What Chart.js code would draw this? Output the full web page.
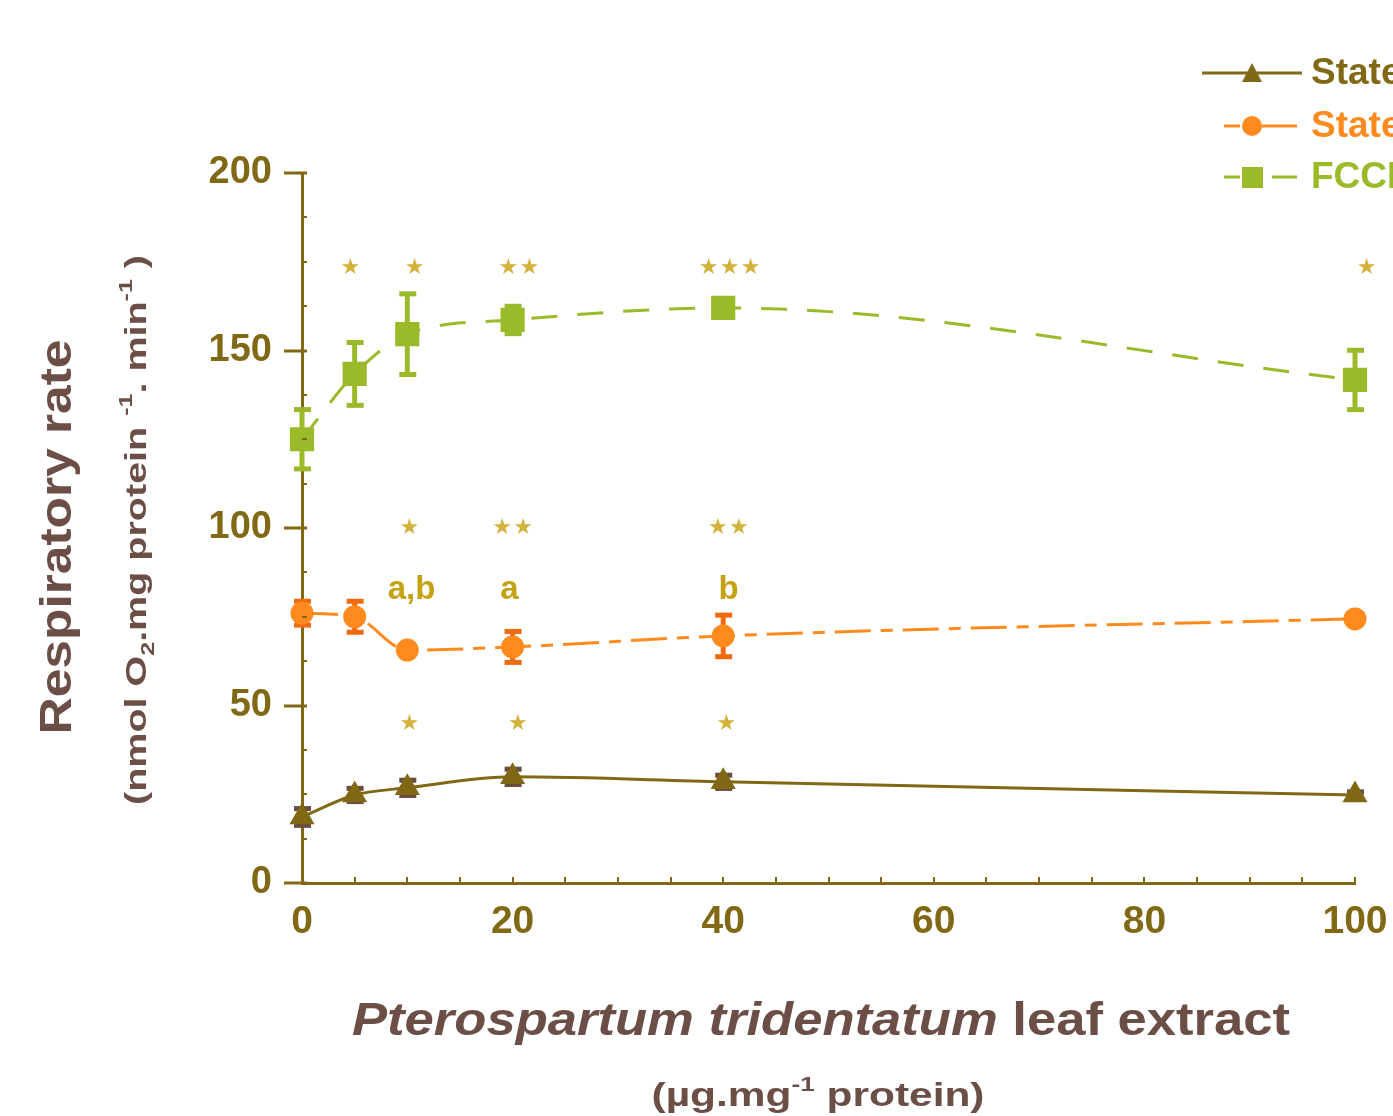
<!DOCTYPE html>
<html>
<head>
<meta charset="utf-8">
<script src="https://cdn.jsdelivr.net/npm/chart.js@4.4.0/dist/chart.umd.min.js"></script>
<style>
  html, body { margin: 0; padding: 0; background: #fff; overflow: hidden; }
  canvas { display: block; }
</style>
</head>
<body>
<canvas id="resp" width="1393" height="1116"></canvas>
<script>
// leaf extract doses (µg/mg protein)
const doses = [0, 5, 10, 20, 40, 100];

const state4 = [18.6, 24.8, 26.8, 29.9, 28.5, 24.8];
const state4Err = [2.5, 2, 2.3, 2.3, 2, 1];

const state3 = [76, 75, 65.6, 66.5, 69.6, 74.4];
const state3Err = [3.5, 4.5, 1, 4.5, 6, 1.5];

const fccp = [125, 143.4, 154.6, 158.6, 162, 141.7];
const fccpErr = [8.5, 9, 11.5, 4, 1.5, 8.5];

const seriesNames = ['State 4', 'State 3', 'FCCP'];

// significance marks
const starX = [4.6, 10.7, 20.6, 40.6, 101.1, 10.2, 20, 40.5, 10.2, 20.5, 40.3];
const starY = [173.2, 173.2, 173.2, 173.2, 173.2, 100, 100, 100, 44.8, 44.8, 44.8];
const starCount = [1, 1, 2, 3, 1, 1, 2, 2, 1, 1, 1];

const letterX = [10.4, 19.7, 40.5];
const letterY = [82.5, 82.5, 82.5];
const letterText = ['a,b', 'a', 'b'];

const OLIVE = '#806814';
const ORANGE = '#ff8a1e';
const GREEN = '#9aba2a';
const BROWN = '#6b4f47';
const FONT = "'Liberation Sans', Arial, sans-serif";

const toXY = vals => doses.map((d, i) => ({ x: d, y: vals[i] }));
const errs = [state4Err, state3Err, fccpErr];
const errColors = ['#6b4c40', '#f06a10', GREEN];

// error bars under the markers
const errorBars = {
    id: 'errorBars',
    beforeDatasetsDraw(chart) {
        const { ctx, scales: { x, y } } = chart;
        chart.data.datasets.forEach((ds, k) => {
            ctx.save();
            ctx.strokeStyle = errColors[k];
            ctx.fillStyle = errColors[k];
            ds.data.forEach((p, i) => {
                const e = errs[k][i];
                const px = x.getPixelForValue(p.x);
                const top = y.getPixelForValue(p.y + e);
                const bot = y.getPixelForValue(p.y - e);
                ctx.lineWidth = 5;
                ctx.beginPath();
                ctx.moveTo(px, top);
                ctx.lineTo(px, bot);
                ctx.stroke();
                ctx.fillRect(px - 8, top - 2, 17, 5);
                ctx.fillRect(px - 8, bot - 3, 17, 5);
            });
            ctx.restore();
        });
    }
};

// minor and major tick marks
const tickMarks = {
    id: 'tickMarks',
    afterDraw(chart) {
        const { ctx, scales: { x, y } } = chart;
        ctx.save();
        ctx.fillStyle = OLIVE;
        for (let v = 0; v <= 200; v += 12.5) {
            const py = Math.round(y.getPixelForValue(v));
            if (v % 50 === 0) ctx.fillRect(x.left - 18, py - 1.5, 23, 3);
            else ctx.fillRect(x.left, py - 1, 5, 2);
        }
        for (let v = 5; v <= 100; v += 5) {
            const px = Math.round(x.getPixelForValue(v));
            ctx.fillRect(px - 1, y.bottom - 6, 2, 6);
        }
        ctx.restore();
    }
};

function drawRich(ctx, parts, cx, cy, targetW, rotate, color) {
    ctx.save();
    let w = 0;
    parts.forEach(p => { ctx.font = p.font; p.w = ctx.measureText(p.t).width; w += p.w; });
    ctx.translate(cx, cy);
    if (rotate) ctx.rotate(-Math.PI / 2);
    ctx.scale(targetW / w, 1);
    ctx.fillStyle = color;
    ctx.textBaseline = 'alphabetic';
    ctx.textAlign = 'left';
    let px = -w / 2;
    parts.forEach(p => { ctx.font = p.font; ctx.fillText(p.t, px, p.dy || 0); px += p.w; });
    ctx.restore();
}

const decorations = {
    id: 'decorations',
    afterDraw(chart) {
        const { ctx, scales: { x, y } } = chart;

        // axis titles
        drawRich(ctx, [{ t: 'Respiratory rate', font: 'bold 44px ' + FONT }], 71, 537, 395, true, BROWN);
        drawRich(ctx, [
            { t: '(nmol O', font: 'bold 30px ' + FONT },
            { t: '2', font: 'bold 19px ' + FONT, dy: 8 },
            { t: '.mg protein ', font: 'bold 30px ' + FONT },
            { t: '-1', font: 'bold 19px ' + FONT, dy: -14 },
            { t: '. min', font: 'bold 30px ' + FONT },
            { t: '-1', font: 'bold 19px ' + FONT, dy: -14 },
            { t: ' )', font: 'bold 30px ' + FONT }
        ], 146, 530, 550, true, BROWN);
        drawRich(ctx, [
            { t: 'Pterospartum tridentatum', font: 'italic bold 46px ' + FONT },
            { t: ' leaf extract', font: 'bold 46px ' + FONT }
        ], 821, 1035, 938, false, BROWN);
        drawRich(ctx, [
            { t: '(µg.mg', font: 'bold 34px ' + FONT },
            { t: '-1', font: 'bold 21px ' + FONT, dy: -15 },
            { t: ' protein)', font: 'bold 34px ' + FONT }
        ], 818, 1106, 333, false, BROWN);

        // significance stars
        ctx.save();
        ctx.fillStyle = '#d2b23a';
        ctx.font = "22px 'DejaVu Sans'";
        ctx.textAlign = 'center';
        ctx.textBaseline = 'middle';
        starX.forEach((sx, i) => {
            const cx = x.getPixelForValue(sx);
            const cy = y.getPixelForValue(starY[i]);
            const n = starCount[i];
            for (let j = 0; j < n; j++) {
                ctx.fillText('\u2605', cx + (j - (n - 1) / 2) * 21, cy);
            }
        });
        ctx.fillStyle = '#c4a214';
        ctx.font = 'bold 33px ' + FONT;
        letterX.forEach((lx, i) => {
            ctx.fillText(letterText[i], x.getPixelForValue(lx), y.getPixelForValue(letterY[i]));
        });
        ctx.restore();

        // legend
        const rows = [73, 126, 177];
        ctx.save();
        chart.data.datasets.forEach((ds, k) => {
            const ly = rows[k];
            ctx.strokeStyle = ds.borderColor;
            ctx.fillStyle = ds.borderColor;
            ctx.lineWidth = 3;
            ctx.beginPath();
            if (k === 0) {
                ctx.moveTo(1202, ly); ctx.lineTo(1302, ly);
            } else if (k === 1) {
                ctx.moveTo(1224, ly); ctx.lineTo(1240, ly);
                ctx.moveTo(1262, ly); ctx.lineTo(1297, ly);
            } else {
                ctx.moveTo(1224, ly); ctx.lineTo(1240, ly);
                ctx.moveTo(1272, ly); ctx.lineTo(1297, ly);
            }
            ctx.stroke();
            ctx.beginPath();
            if (k === 0) {
                ctx.moveTo(1252, ly - 10); ctx.lineTo(1262, ly + 9); ctx.lineTo(1242, ly + 9); ctx.closePath();
            } else if (k === 1) {
                ctx.arc(1252, ly, 10, 0, Math.PI * 2);
            } else {
                ctx.rect(1242, ly - 10, 21, 21);
            }
            ctx.fill();
            ctx.font = 'bold 37px ' + FONT;
            ctx.textAlign = 'left';
            ctx.textBaseline = 'middle';
            ctx.fillText(ds.label, 1311, ly + 1);
        });
        ctx.restore();
    }
};

// keep the plot area fixed, no automatic room for edge labels
const noEdgePad = s => { s.paddingLeft = 0; s.paddingRight = 0; s.paddingTop = 0; s.paddingBottom = 0; };

new Chart(document.getElementById('resp'), {
    type: 'line',
    data: {
        datasets: [
            {
                label: seriesNames[0],
                data: toXY(state4),
                borderColor: OLIVE,
                backgroundColor: OLIVE,
                borderWidth: 3,
                pointStyle: 'triangle',
                pointRadius: 11.5,
                cubicInterpolationMode: 'monotone',
                clip: false
            },
            {
                label: seriesNames[1],
                data: toXY(state3),
                borderColor: ORANGE,
                backgroundColor: ORANGE,
                borderWidth: 3,
                borderDash: [36, 10, 12, 10],
                pointStyle: 'circle',
                pointRadius: 10,
                cubicInterpolationMode: 'monotone',
                clip: false
            },
            {
                label: seriesNames[2],
                data: toXY(fccp),
                borderColor: GREEN,
                backgroundColor: GREEN,
                borderWidth: 3,
                borderDash: [26, 20],
                pointStyle: 'rect',
                pointRadius: 15,
                cubicInterpolationMode: 'monotone',
                clip: false
            }
        ]
    },
    options: {
        responsive: false,
        animation: false,
        layout: { padding: { left: 180, right: 38, top: 173, bottom: 140 } },
        plugins: { legend: { display: false }, tooltip: { enabled: false } },
        elements: { point: { borderWidth: 0, hoverRadius: 10 } },
        scales: {
            x: {
                type: 'linear',
                min: 0,
                max: 100,
                afterFit: s => { s.height = 93; noEdgePad(s); },
                ticks: { stepSize: 20, color: OLIVE, font: { family: FONT, size: 39, weight: 'bold' }, padding: 16, maxRotation: 0 },
                grid: { display: false, drawTicks: false },
                border: { display: true, color: OLIVE, width: 3 }
            },
            y: {
                min: 0,
                max: 200,
                afterFit: s => { s.width = 122; noEdgePad(s); },
                ticks: { stepSize: 50, color: OLIVE, font: { family: FONT, size: 38, weight: 'bold' }, padding: 30 },
                grid: { display: false, drawTicks: false },
                border: { display: true, color: OLIVE, width: 3 }
            }
        }
    },
    plugins: [errorBars, tickMarks, decorations]
});
</script>
</body>
</html>
